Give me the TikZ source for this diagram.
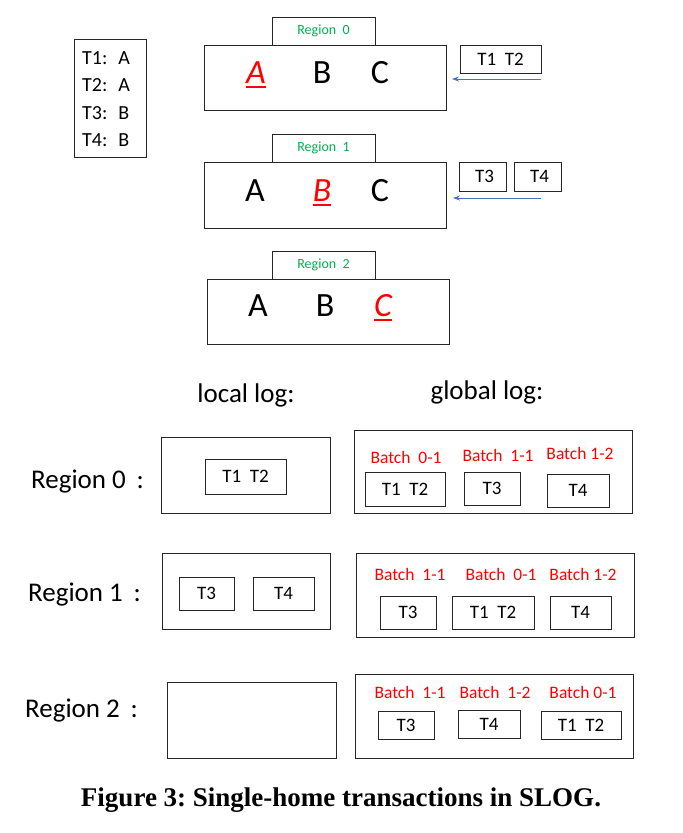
\documentclass[tikz,border=0pt]{standalone}
\usepackage{fontspec}
\setmainfont{Carlito}
\newfontfamily\capfont{Liberation Serif}
\definecolor{rgreen}{RGB}{0,176,80}
\definecolor{bblue}{RGB}{68,114,196}
\definecolor{rred}{RGB}{255,0,0}
\usetikzlibrary{arrows.meta}
\frenchspacing
\begin{document}
\begin{tikzpicture}[x=1pt,y=-1pt,
  box/.style={draw=black!85, line width=0.9pt, inner sep=0pt},
  tab/.style={box, minimum width=103pt, minimum height=28pt, font=\fontsize{14}{16}\selectfont, text=rgreen},
  big/.style={inner sep=0pt, font=\fontsize{34}{38}\selectfont},
  hot/.style={big, text=rred, font=\fontsize{34}{38}\selectfont\itshape},
  uline/.style={draw=rred, line width=1.8pt},
  tx/.style={font=\fontsize{19}{21}\selectfont},
  batch/.style={inner sep=0pt, text=rred, font=\fontsize{17.5}{20}\selectfont},
  rlab/.style={inner sep=0pt, anchor=west, font=\fontsize{27}{30}\selectfont},
  arr/.style={draw=bblue, line width=1pt, -{Stealth[length=7pt,width=5pt]}}
]
\useasboundingbox (0,0) rectangle (683,833);

% transaction list
\node[box, minimum width=72pt, minimum height=118pt] (tlist) at (110,98) {};
\node[inner sep=0pt, anchor=west, align=left, font=\fontsize{20}{27.3}\selectfont] (tlisttext) at (82,99)
  {T1:\hspace{0.55em}A\\T2:\hspace{0.55em}A\\T3:\hspace{0.55em}B\\T4:\hspace{0.55em}B};

% Region 0
\node[box, minimum width=242pt, minimum height=65pt] (r0) at (325,77.5) {};
\node[tab] (r0tab) at (323.5,31) {Region\hspace{0.45em}0};
\node[hot] (r0a) at (256,73) {A};
\node[big] (r0b) at (322,73) {B};
\node[big] (r0c) at (380,73) {C};
\draw[uline] ([yshift=-3pt]r0a.south west) -- ([yshift=-3pt]r0a.south east);
\node[box, minimum width=81pt, minimum height=28pt, tx] (q0) at (500.5,59) {T1\ \ T2};
\coordinate (q0s) at (541,79);
\coordinate (q0e) at (452,79);
\draw[arr] (q0s) -- (q0e);

% Region 1
\node[box, minimum width=242pt, minimum height=66pt] (r1) at (325,195) {};
\node[tab] (r1tab) at (323.5,148) {Region\hspace{0.45em}1};
\node[big] (r1a) at (255,191) {A};
\node[hot] (r1b) at (322,191) {B};
\node[big] (r1c) at (380,191) {C};
\draw[uline] ([yshift=-3pt]r1b.south west) -- ([yshift=-3pt]r1b.south east);
\node[box, minimum width=47pt, minimum height=29pt, tx] (q1a) at (482.5,176.5) {\ T3};
\node[box, minimum width=47pt, minimum height=29pt, tx] (q1b) at (537.5,176.5) {\ T4};
\coordinate (q1s) at (541,198);
\coordinate (q1e) at (453,198);
\draw[arr] (q1s) -- (q1e);

% Region 2
\node[box, minimum width=242pt, minimum height=65pt] (r2) at (328,311.5) {};
\node[tab] (r2tab) at (323.5,265) {Region\hspace{0.45em}2};
\node[big] (r2a) at (258,306) {A};
\node[big] (r2b) at (325,306) {B};
\node[hot] (r2c) at (383,306) {C};
\draw[uline] ([yshift=-3pt]r2c.south west) -- ([yshift=-3pt]r2c.south east);

% headings
\node[inner sep=0pt, font=\fontsize{27}{30}\selectfont] (loclog) at (246,395) {local log:};
\node[inner sep=0pt, font=\fontsize{27}{30}\selectfont] (glolog) at (487,392) {global log:};

% Region 0 logs
\node[rlab] (l0) at (31,482) {Region 0\hspace{0.4em}:};
\node[box, minimum width=169pt, minimum height=76pt] (loc0) at (245.5,475) {};
\node[box, minimum width=81pt, minimum height=35pt, tx] (loc0a) at (245.5,476.5) {T1\ \ T2};
\node[box, minimum width=278pt, minimum height=83pt] (glo0) at (493,471.5) {};
\node[batch] (b0a) at (406,457) {Batch\ \ 0-1};
\node[batch] (b0b) at (498,455) {Batch\ \ 1-1};
\node[batch] (b0c) at (580,453) {Batch 1-2};
\node[box, minimum width=80pt, minimum height=34pt, tx] (g0a) at (405,489) {T1\ \ T2};
\node[box, minimum width=56pt, minimum height=33pt, tx] (g0b) at (492,488.5) {T3};
\node[box, minimum width=62pt, minimum height=33pt, tx] (g0c) at (578,490.5) {T4};

% Region 1 logs
\node[rlab] (l1) at (28,595) {Region 1\hspace{0.4em}:};
\node[box, minimum width=168pt, minimum height=76pt] (loc1) at (246,591) {};
\node[box, minimum width=55pt, minimum height=33pt, tx] (loc1a) at (206.5,593.5) {T3};
\node[box, minimum width=61pt, minimum height=33pt, tx] (loc1b) at (283.5,593.5) {T4};
\node[box, minimum width=278pt, minimum height=84pt] (glo1) at (495,595) {};
\node[batch] (b1a) at (410,574) {Batch\ \ 1-1};
\node[batch] (b1b) at (501,574) {Batch\ \ 0-1};
\node[batch] (b1c) at (583,574) {Batch 1-2};
\node[box, minimum width=56pt, minimum height=33pt, tx] (g1a) at (408,612.5) {T3};
\node[box, minimum width=82pt, minimum height=33pt, tx] (g1b) at (493,612.5) {T1\ \ T2};
\node[box, minimum width=61pt, minimum height=33pt, tx] (g1c) at (580.5,612.5) {T4};

% Region 2 logs
\node[rlab] (l2) at (25,711) {Region 2\hspace{0.4em}:};
\node[box, minimum width=169pt, minimum height=76pt] (loc2) at (251.5,720) {};
\node[box, minimum width=278pt, minimum height=84pt] (glo2) at (494,716) {};
\node[batch] (b2a) at (410,692) {Batch\ \ 1-1};
\node[batch] (b2b) at (495,692) {Batch\ \ 1-2};
\node[batch] (b2c) at (583,692) {Batch 0-1};
\node[box, minimum width=56pt, minimum height=28pt, tx] (g2a) at (406,725) {T3};
\node[box, minimum width=62pt, minimum height=28pt, tx] (g2b) at (489,724) {T4};
\node[box, minimum width=80pt, minimum height=28pt, tx] (g2c) at (581,725) {T1\ \ T2};

% caption
\node[inner sep=0pt, font=\capfont\bfseries\fontsize{27}{30}\selectfont] (cap) at (341,800) {Figure 3: Single-home transactions in SLOG.};
\end{tikzpicture}
\end{document}
